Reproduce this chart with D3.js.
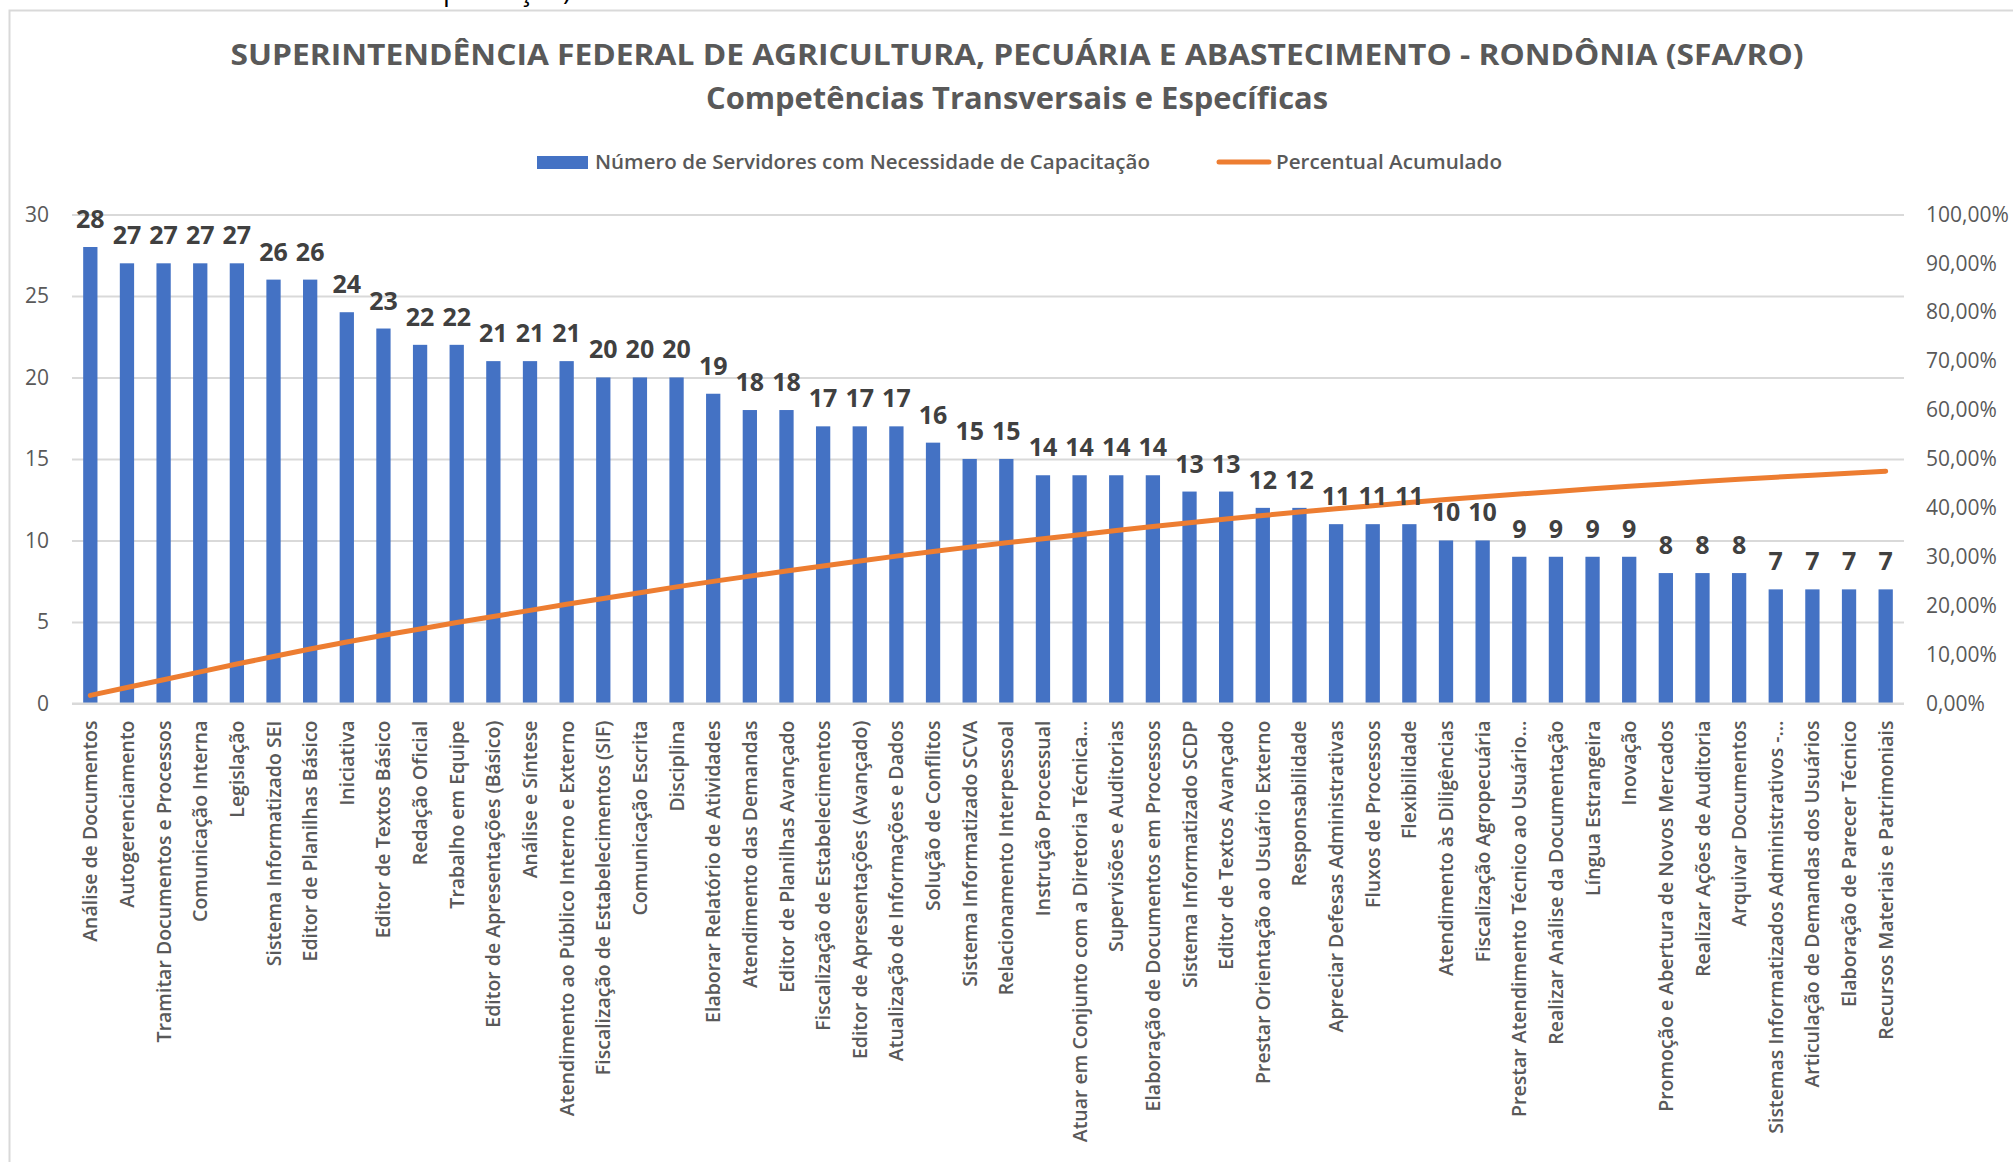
<!DOCTYPE html>
<html>
<head>
<meta charset="utf-8">
<script src="https://cdn.jsdelivr.net/npm/d3@7"></script>
<style>
body {margin:0; background:#fff; overflow:hidden;}
svg text {font-family:'Open Sans','Noto Sans',sans-serif;}
</style>
</head>
<body>
<svg id=chart width=2013 height=1162></svg>
<script>

var categories=['Análise de Documentos','Autogerenciamento','Tramitar Documentos e Processos','Comunicação Interna','Legislação',
	'Sistema Informatizado SEI','Editor de Planilhas Básico','Iniciativa','Editor de Textos Básico','Redação Oficial',
	'Trabalho em Equipe','Editor de Apresentações (Básico)','Análise e Síntese','Atendimento ao Público Interno e Externo','Fiscalização de Estabelecimentos (SIF)',
	'Comunicação Escrita','Disciplina','Elaborar Relatório de Atividades','Atendimento das Demandas','Editor de Planilhas Avançado',
	'Fiscalização de Estabelecimentos','Editor de Apresentações (Avançado)','Atualização de Informações e Dados','Solução de Conflitos','Sistema Informatizado SCVA',
	'Relacionamento Interpessoal','Instrução Processual','Atuar em Conjunto com a Diretoria Técnica…','Supervisões e Auditorias','Elaboração de Documentos em Processos',
	'Sistema Informatizado SCDP','Editor de Textos Avançado','Prestar Orientação ao Usuário Externo','Responsabilidade','Apreciar Defesas Administrativas',
	'Fluxos de Processos','Flexibilidade','Atendimento às Diligências','Fiscalização Agropecuária','Prestar Atendimento Técnico ao Usuário…',
	'Realizar Análise da Documentação','Língua Estrangeira','Inovação','Promoção e Abertura de Novos Mercados','Realizar Ações de Auditoria',
	'Arquivar Documentos','Sistemas Informatizados Administrativos -…','Articulação de Demandas dos Usuários','Elaboração de Parecer Técnico','Recursos Materiais e Patrimoniais'];

var servidores=[28,27,27,27,27,26,26,24,23,22,
	22,21,21,21,20,20,20,19,18,18,
	17,17,17,16,15,15,14,14,14,14,
	13,13,12,12,11,11,11,10,10,9,
	9,9,9,8,8,8,7,7,7,7];

// percentual acumulado (%)
var percentual=[1.66,3.26,4.86,6.46,8.07,9.61,11.15,12.57,13.94,15.24,
	16.55,17.79,19.04,20.28,21.47,22.66,23.84,24.97,26.04,27.11,
	28.11,29.12,30.13,31.08,31.97,32.86,33.69,34.52,35.35,36.18,
	36.95,37.72,38.43,39.15,39.80,40.45,41.10,41.70,42.29,42.82,
	43.36,43.89,44.42,44.90,45.37,45.85,46.26,46.68,47.09,47.51];

var left_ticks=[0,5,10,15,20,25,30];
var right_ticks=[0,10,20,30,40,50,60,70,80,90,100];

var title_text='SUPERINTENDÊNCIA FEDERAL DE AGRICULTURA, PECUÁRIA E ABASTECIMENTO - RONDÔNIA (SFA/RO)';
var subtitle_text='Competências Transversais e Específicas';
var legend_bar='Número de Servidores com Necessidade de Capacitação';
var legend_line='Percentual Acumulado';
var above_text='(Número de Servidores com Necessidade de Capacitação)';

var BLUE='#4472C4', ORANGE='#ED7D31', GRID='#d9d9d9', TXT='#595959';

var svg=d3.select('#chart');

var marg_left=72, marg_right=1904, marg_top=214.4, marg_bottom=703.5;

// chart border + the cut-off line of document text above it
svg.append('text')
	.attr('x',571).attr('y',0)
	.attr('text-anchor','end')
	.style('font-size','27px').style('fill','#000')
	.text(above_text);
svg.append('rect')
	.attr('x',9.5).attr('y',10.5).attr('width',2100).attr('height',1300)
	.attr('fill','#fff').attr('stroke',GRID).attr('stroke-width',2);

// titles
svg.append('text')
	.attr('x',1017).attr('y',65)
	.attr('text-anchor','middle')
	.attr('textLength',1573).attr('lengthAdjust','spacingAndGlyphs')
	.style('font-size','29px').style('font-weight','bold').style('fill',TXT)
	.text(title_text);
svg.append('text')
	.attr('x',1017).attr('y',109)
	.attr('text-anchor','middle')
	.attr('textLength',622).attr('lengthAdjust','spacingAndGlyphs')
	.style('font-size','30px').style('font-weight','bold').style('fill',TXT)
	.text(subtitle_text);

// legend
var lg=svg.append('g');
lg.append('rect').attr('x',537).attr('y',156).attr('width',51).attr('height',13).attr('fill',BLUE);
lg.append('text').attr('x',595).attr('y',169)
	.attr('textLength',555).attr('lengthAdjust','spacingAndGlyphs')
	.style('font-size','20px').style('font-weight',600).style('fill',TXT)
	.text(legend_bar);
lg.append('line').attr('x1',1219).attr('x2',1269).attr('y1',162).attr('y2',162)
	.attr('stroke',ORANGE).attr('stroke-width',5).attr('stroke-linecap','round');
lg.append('text').attr('x',1276).attr('y',169)
	.attr('textLength',226).attr('lengthAdjust','spacingAndGlyphs')
	.style('font-size','20px').style('font-weight',600).style('fill',TXT)
	.text(legend_line);

// scales
var xScale=d3.scaleBand()
	.domain(categories)
	.range([marg_left,marg_right])
	.paddingInner(0.61)
	.paddingOuter(0.305);
var yScale=d3.scaleLinear().domain([0,30]).range([marg_bottom,marg_top]);
var y2Scale=d3.scaleLinear().domain([0,100]).range([marg_bottom,marg_top]);

// gridlines
svg.append('g')
	.attr('transform','translate('+marg_left+',0)')
	.call(d3.axisLeft(yScale).tickValues(left_ticks).tickSize(-(marg_right-marg_left)).tickFormat(''))
	.call(function(g) {
		g.select('.domain').remove();
		g.selectAll('line').attr('stroke',GRID).attr('stroke-width',2);
	});

// left axis
svg.append('g')
	.attr('transform','translate('+marg_left+',0)')
	.call(d3.axisLeft(yScale).tickValues(left_ticks).tickSize(0).tickPadding(23))
	.call(function(g) {
		g.select('.domain').remove();
		g.selectAll('text').attr('font-family',null).attr('font-size',null)
			.style('font-size','21px').style('fill',TXT);
	});

// right axis
svg.append('g')
	.attr('transform','translate('+marg_right+',0)')
	.call(d3.axisRight(y2Scale).tickValues(right_ticks).tickSize(0).tickPadding(22)
		.tickFormat(function(d) {return d3.format('.2f')(d).replace('.',',')+'%';}))
	.call(function(g) {
		g.select('.domain').remove();
		g.selectAll('text').attr('font-family',null).attr('font-size',null)
			.style('font-size','21px').style('fill',TXT);
	});

// bars
var data=[];
for (var i in categories) {
	data.push({c:categories[i],v:servidores[i],p:percentual[i]});
}
svg.append('g').selectAll('.bar')
	.data(data)
	.enter().append('rect')
	.attr('class','bar')
	.attr('x',function(d) {return xScale(d.c);})
	.attr('y',function(d) {return yScale(d.v);})
	.attr('width',xScale.bandwidth())
	.attr('height',function(d) {return yScale(0)-yScale(d.v);})
	.attr('fill',BLUE);

// x axis labels
svg.append('g')
	.attr('transform','translate(0,'+marg_bottom+')')
	.call(d3.axisBottom(xScale).tickSize(0))
	.call(function(g) {
		g.select('.domain').remove();
		g.selectAll('text').attr('font-family',null).attr('font-size',null)
			.attr('transform','rotate(-90)')
			.attr('text-anchor','end')
			.attr('x',-17).attr('y',0).attr('dy','0.36em')
			.style('font-size','19.5px').style('font-weight',600).style('fill',TXT);
	});

// bottom axis line (on top of bars)
svg.append('line')
	.attr('x1',marg_left).attr('x2',marg_right)
	.attr('y1',yScale(0)).attr('y2',yScale(0))
	.attr('stroke',GRID).attr('stroke-width',2);

// cumulative line
var line=d3.line()
	.x(function(d) {return xScale(d.c)+xScale.bandwidth()/2;})
	.y(function(d) {return y2Scale(d.p);});
svg.append('path')
	.datum(data)
	.attr('d',line)
	.attr('fill','none')
	.attr('stroke',ORANGE)
	.attr('stroke-width',5)
	.attr('stroke-linecap','round')
	.attr('stroke-linejoin','round');

// value labels
svg.append('g').selectAll('.vlabel')
	.data(data)
	.enter().append('text')
	.attr('class','vlabel')
	.attr('x',function(d) {return xScale(d.c)+xScale.bandwidth()/2;})
	.attr('y',function(d) {return yScale(d.v)-19;})
	.attr('text-anchor','middle')
	.style('font-size','25px').style('font-weight','bold').style('fill','#404040')
	.text(function(d) {return d.v;});

</script>
</body>
</html>
